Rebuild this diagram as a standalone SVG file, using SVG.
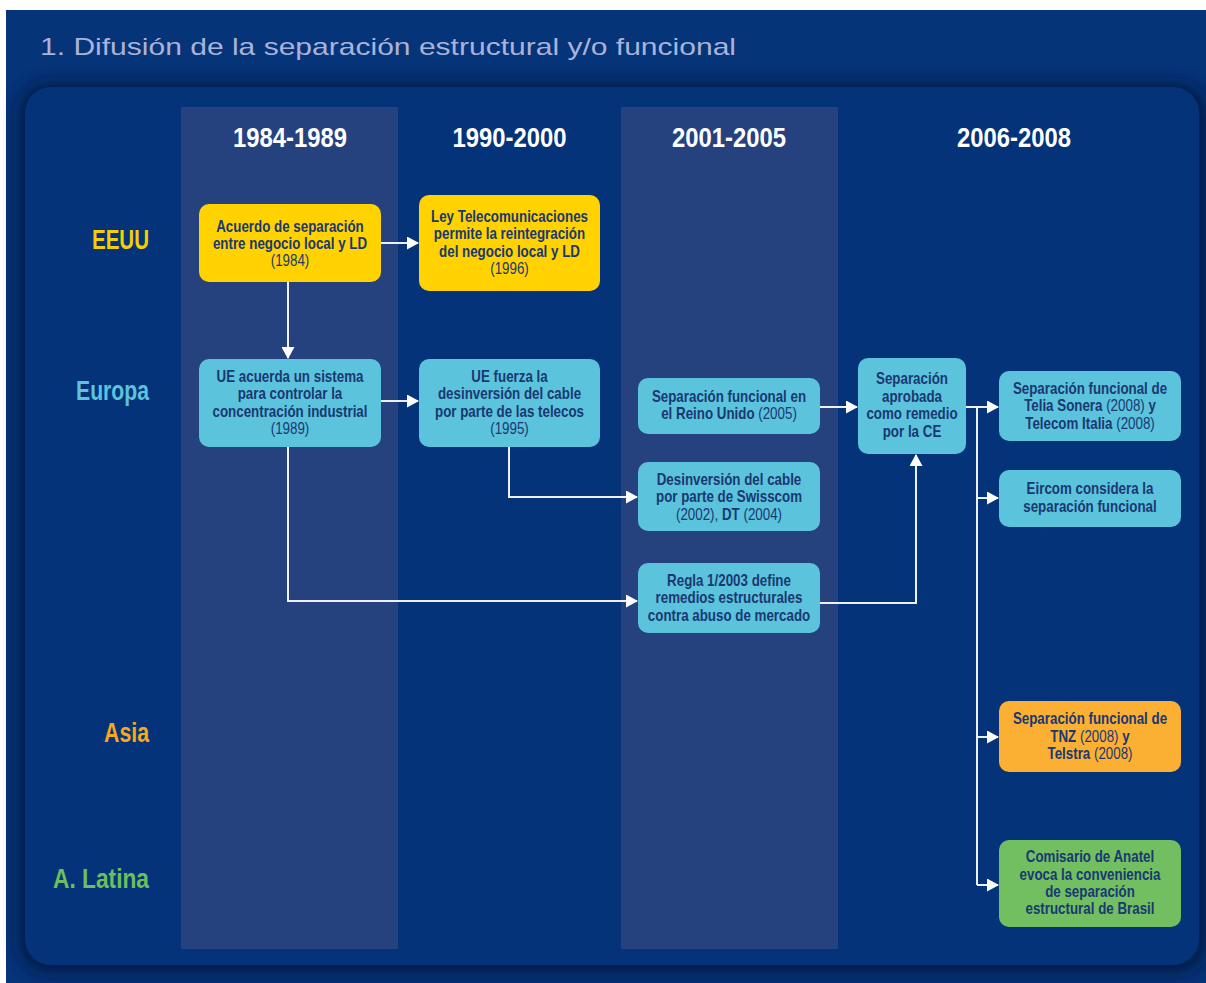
<svg xmlns="http://www.w3.org/2000/svg" width="1206" height="983" viewBox="0 0 1206 983">
  <defs>
    <filter id="panelShadow" x="-5%" y="-5%" width="110%" height="110%">
      <feGaussianBlur stdDeviation="9"/>
    </filter>
    <marker id="arrow" viewBox="0 0 12 13" refX="11" refY="6.5" markerWidth="12" markerHeight="13" markerUnits="userSpaceOnUse" orient="auto">
      <path d="M0,0 L12,6.5 L0,13 z" fill="#ffffff"/>
    </marker>
    <style>
      .title { font-family: "Liberation Sans", Arial, sans-serif; font-size: 24px; fill: #a9b3d9; }
      .year { font-family: "Liberation Sans", Arial, sans-serif; font-weight: bold; font-size: 28px; fill: #ffffff; text-anchor: middle; }
      .region { font-family: "Liberation Sans", Arial, sans-serif; font-weight: bold; font-size: 27px; }
      .node text { font-family: "Liberation Sans", Arial, sans-serif; font-weight: bold; font-size: 16px; fill: #1a3872; text-anchor: middle; }
      .node text .yr { font-weight: normal; }
      .yellow rect { fill: #ffd200; }
      .cyan rect { fill: #5bc3dc; }
      .orange rect { fill: #fbb034; }
      .green rect { fill: #72bf61; }
      .conn path { fill: none; stroke: #eef0f7; stroke-width: 2; }
      .band { fill: #25427f; }
    </style>
  </defs>

  <!-- page background -->
  <rect x="0" y="0" width="1206" height="983" fill="#ffffff"/>
  <rect x="6" y="10" width="1200" height="973" fill="#063479"/>

  <text class="title" x="40" y="55" textLength="696" lengthAdjust="spacingAndGlyphs">1. Difusión de la separación estructural y/o funcional</text>

  <!-- main panel with soft shadow -->
  <rect x="20" y="84" width="1186" height="888" rx="28" fill="#06153a" opacity="0.85" filter="url(#panelShadow)"/>
  <rect x="25" y="87" width="1174" height="878" rx="26" fill="#04337a"/>

  <!-- period bands -->
  <rect class="band" x="181" y="107" width="217" height="842"/>
  <rect class="band" x="621" y="107" width="217" height="842"/>

  <!-- period headers -->
  <text class="year" x="290" y="147" textLength="114" lengthAdjust="spacingAndGlyphs">1984-1989</text>
  <text class="year" x="509.5" y="147" textLength="114" lengthAdjust="spacingAndGlyphs">1990-2000</text>
  <text class="year" x="729" y="147" textLength="114" lengthAdjust="spacingAndGlyphs">2001-2005</text>
  <text class="year" x="1014" y="147" textLength="114" lengthAdjust="spacingAndGlyphs">2006-2008</text>

  <!-- region labels -->
  <text class="region" x="92" y="249" fill="#f5d000" textLength="57" lengthAdjust="spacingAndGlyphs">EEUU</text>
  <text class="region" x="76" y="400" fill="#5bc3dc" textLength="73" lengthAdjust="spacingAndGlyphs">Europa</text>
  <text class="region" x="104" y="742" fill="#f7a81f" textLength="45" lengthAdjust="spacingAndGlyphs">Asia</text>
  <text class="region" x="53" y="888" fill="#6cbf5e" textLength="96" lengthAdjust="spacingAndGlyphs">A. Latina</text>

  <!-- connectors -->
  <g id="connectors" class="conn">
    <path d="M381,243 H418" marker-end="url(#arrow)"/>
    <path d="M288,282 V358" marker-end="url(#arrow)"/>
    <path d="M381,401 H418" marker-end="url(#arrow)"/>
    <path d="M509,447 V497 H637" marker-end="url(#arrow)"/>
    <path d="M288,447 V601 H637" marker-end="url(#arrow)"/>
    <path d="M820,407 H857" marker-end="url(#arrow)"/>
    <path d="M820,603 H916 V455" marker-end="url(#arrow)"/>
    <path d="M966,407 H998" marker-end="url(#arrow)"/>
    <path d="M977,407 V885"/>
    <path d="M977,498 H998" marker-end="url(#arrow)"/>
    <path d="M977,737 H998" marker-end="url(#arrow)"/>
    <path d="M977,885 H998" marker-end="url(#arrow)"/>
  </g>

  <!-- nodes: labels are set in a horizontally condensed bold face -->
  <g id="n-acuerdo" class="node yellow">
    <rect x="199" y="204" width="182" height="78" rx="10"/>
    <g transform="translate(290 0) scale(0.835 1)">
      <text x="0" y="232">Acuerdo de separación</text>
      <text x="0" y="249">entre negocio local y LD</text>
      <text x="0" y="266"><tspan class="yr">(1984)</tspan></text>
    </g>
  </g>

  <g id="n-ley" class="node yellow">
    <rect x="419" y="195" width="181" height="96" rx="10"/>
    <g transform="translate(509.5 0) scale(0.835 1)">
      <text x="0" y="222">Ley Telecomunicaciones</text>
      <text x="0" y="239">permite la reintegración</text>
      <text x="0" y="257">del negocio local y LD</text>
      <text x="0" y="274"><tspan class="yr">(1996)</tspan></text>
    </g>
  </g>

  <g id="n-ue-concentracion" class="node cyan">
    <rect x="199" y="359" width="182" height="88" rx="10"/>
    <g transform="translate(290 0) scale(0.835 1)">
      <text x="0" y="382">UE acuerda un sistema</text>
      <text x="0" y="399">para controlar la</text>
      <text x="0" y="417">concentración industrial</text>
      <text x="0" y="434"><tspan class="yr">(1989)</tspan></text>
    </g>
  </g>

  <g id="n-ue-desinversion" class="node cyan">
    <rect x="419" y="359" width="181" height="88" rx="10"/>
    <g transform="translate(509.5 0) scale(0.835 1)">
      <text x="0" y="382">UE fuerza la</text>
      <text x="0" y="399">desinversión del cable</text>
      <text x="0" y="417">por parte de las telecos</text>
      <text x="0" y="434"><tspan class="yr">(1995)</tspan></text>
    </g>
  </g>

  <g id="n-reino-unido" class="node cyan">
    <rect x="638" y="378" width="182" height="56" rx="10"/>
    <g transform="translate(729 0) scale(0.835 1)">
      <text x="0" y="402">Separación funcional en</text>
      <text x="0" y="419">el Reino Unido <tspan class="yr">(2005)</tspan></text>
    </g>
  </g>

  <g id="n-swisscom" class="node cyan">
    <rect x="638" y="462" width="182" height="69" rx="10"/>
    <g transform="translate(729 0) scale(0.835 1)">
      <text x="0" y="485">Desinversión del cable</text>
      <text x="0" y="502">por parte de Swisscom</text>
      <text x="0" y="520"><tspan class="yr">(2002),</tspan> DT <tspan class="yr">(2004)</tspan></text>
    </g>
  </g>

  <g id="n-regla" class="node cyan">
    <rect x="638" y="563" width="182" height="70" rx="10"/>
    <g transform="translate(729 0) scale(0.835 1)">
      <text x="0" y="586">Regla 1/2003 define</text>
      <text x="0" y="603">remedios estructurales</text>
      <text x="0" y="621">contra abuso de mercado</text>
    </g>
  </g>

  <g id="n-ce" class="node cyan">
    <rect x="858" y="358" width="108" height="96" rx="10"/>
    <g transform="translate(912 0) scale(0.835 1)">
      <text x="0" y="384">Separación</text>
      <text x="0" y="402">aprobada</text>
      <text x="0" y="419">como remedio</text>
      <text x="0" y="437">por la CE</text>
    </g>
  </g>

  <g id="n-telia" class="node cyan">
    <rect x="999" y="371" width="182" height="70" rx="10"/>
    <g transform="translate(1090 0) scale(0.835 1)">
      <text x="0" y="394">Separación funcional de</text>
      <text x="0" y="411">Telia Sonera <tspan class="yr">(2008)</tspan> y</text>
      <text x="0" y="429">Telecom Italia <tspan class="yr">(2008)</tspan></text>
    </g>
  </g>

  <g id="n-eircom" class="node cyan">
    <rect x="999" y="470" width="182" height="57" rx="10"/>
    <g transform="translate(1090 0) scale(0.835 1)">
      <text x="0" y="494">Eircom considera la</text>
      <text x="0" y="512">separación funcional</text>
    </g>
  </g>

  <g id="n-tnz" class="node orange">
    <rect x="999" y="701" width="182" height="71" rx="10"/>
    <g transform="translate(1090 0) scale(0.835 1)">
      <text x="0" y="724">Separación funcional de</text>
      <text x="0" y="742">TNZ <tspan class="yr">(2008)</tspan> y</text>
      <text x="0" y="759">Telstra <tspan class="yr">(2008)</tspan></text>
    </g>
  </g>

  <g id="n-anatel" class="node green">
    <rect x="999" y="840" width="182" height="87" rx="10"/>
    <g transform="translate(1090 0) scale(0.835 1)">
      <text x="0" y="862">Comisario de Anatel</text>
      <text x="0" y="880">evoca la conveniencia</text>
      <text x="0" y="897">de separación</text>
      <text x="0" y="914">estructural de Brasil</text>
    </g>
  </g>
</svg>
